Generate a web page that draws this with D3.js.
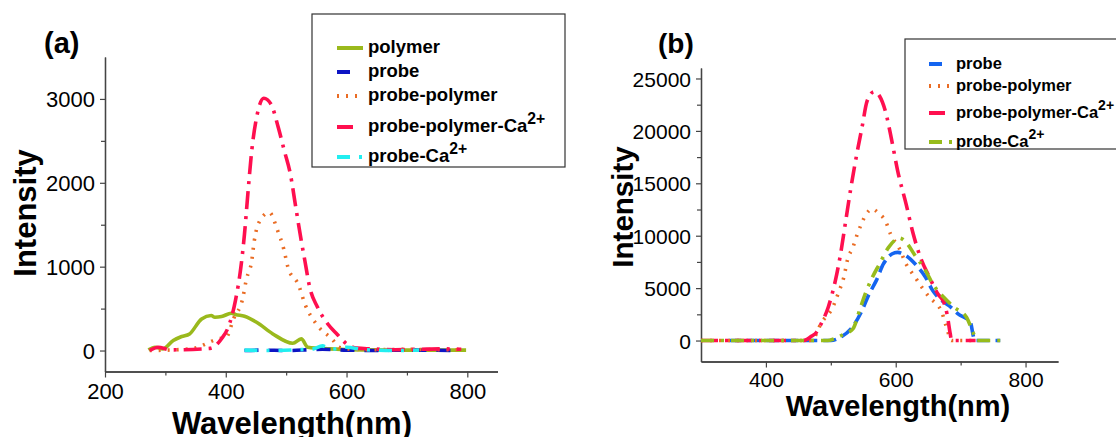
<!DOCTYPE html>
<html>
<head>
<meta charset="utf-8">
<script src="https://cdn.jsdelivr.net/npm/d3@7"></script>
<style>
  body { margin: 0; background: #fff; }
  text { font-family: "Liberation Sans", Arial, sans-serif; fill: #000; }
</style>
</head>
<body>
<div id="chart"></div>
<script>
// ---- data: [wavelength nm, intensity] ----
var polymerA = [[272,8],[283,40],[296,20],[313,120],[327,167],[340,198],[360,377],[376,417],[382,397],
                [393,405],[409,444],[417,428],[431,409],[451,337],[478,198],[511,87],[525,139],[536,40],
                [572,20],[627,8],[700,5],[798,5]];
var probeA = [[431,0],[460,5],[500,0],[540,10],[560,15],[600,5],[640,0],[700,5],[775,0]];
var probePolymerA = [[274,0],[342,20],[388,140],[401,160],[413,380],[428,620],[434,845],[443,1071],
                     [447,1298],[455,1528],[472,1647],[486,1428],[496,1210],[503,992],[521,774],
                     [531,556],[549,325],[578,119],[587,40],[600,20],[650,10],[700,15],[750,10],[790,10]];
var probePolymerCaA = [[274,0],[288,40],[308,8],[374,26],[393,140],[404,277],[416,595],[425,992],
                       [431,1389],[437,1905],[443,2381],[451,2778],[463,3008],[475,2937],[487,2659],
                       [497,2381],[507,2103],[516,1706],[525,1310],[531,1071],[539,754],[552,516],
                       [569,317],[584,198],[602,70],[617,30],[640,20],[680,10],[720,15],[760,20],[790,15]];
var probeCaA = [[431,5],[480,0],[520,10],[545,20],[560,55],[575,15],[600,40],[630,10],[680,0],[720,5]];

var probeB = [[342,0],[500,0],[515,317],[531,1111],[548,2857],[559,4444],[570,5714],[581,7302],
              [594,8254],[603,8413],[616,8095],[630,7302],[646,6032],[657,4762],[668,3968],
              [682,3333],[696,2540],[715,1746],[720,317],[722,0],[761,0]];
var probePolymerB = [[300,0],[470,0],[486,1746],[503,3175],[512,4603],[520,6032],[526,7778],[534,8889],
                     [540,10000],[547,11111],[553,11905],[564,12540],[575,12063],[584,11429],[592,10159],
                     [606,8730],[616,7302],[630,6032],[642,4921],[652,4127],[671,2698],[679,1111],
                     [686,0],[720,0]];
var probePolymerCaB = [[300,0],[458,0],[470,400],[478,790],[485,1587],[496,3175],[507,5714],[515,8254],
                       [523,11429],[531,14603],[540,17778],[548,20317],[556,22857],[567,23746],
                       [575,23333],[584,21905],[594,19048],[603,16190],[616,13016],[627,10159],
                       [638,7937],[652,6032],[665,4444],[674,3651],[679,2540],[684,635],[686,0],[723,0]];
var probeCaB = [[300,0],[495,0],[505,159],[521,635],[534,1111],[545,3016],[553,4444],[564,6032],
                [575,7302],[589,8889],[606,9778],[616,9365],[630,8095],[646,6667],[657,5397],
                [674,4127],[690,3175],[709,2222],[720,635],[725,0],[771,0]];

// ---- axis ticks ----
var xTicksA = [200, 400, 600, 800], xMinorA = [300, 500, 700];
var yTicksA = [0, 1000, 2000, 3000], yMinorA = [500, 1500, 2500];
var xTicksB = [400, 600, 800], xMinorB = [500, 700];
var yTicksB = [0, 5000, 10000, 15000, 20000, 25000], yMinorB = [2500, 7500, 12500, 17500, 22500];

var W = 1116, H = 437;

var svg = d3.select("#chart").append("svg")
            .attr("width", W)
            .attr("height", H);

var panelA = {
  label: "(a)", labelX: 44, labelY: 53, labelFont: 29,
  left: 105, right: 497.5, top: 57, bottom: 371.5,
  xDomain: [200, 850], yDomain: [-250, 3500],
  xTicks: xTicksA, xMinor: xMinorA, yTicks: yTicksA, yMinor: yMinorA,
  tickFont: 22, xPad: 6,
  yTitleX: 36, yTitleY: 213, yTitleFont: 31,
  xTitleX: 292, xTitleY: 434, xTitleFont: 31,
  series: [
    { name: "polymer",        data: polymerA,        color: "#9ab91c", dash: null,          key: 26 },
    { name: "probe",          data: probeA,          color: "#0d14c4", dash: "14,10",       key: 13 },
    { name: "probe-polymer",  data: probePolymerA,   color: "#ea6c24", dash: "2,7",         key: 22 },
    { name: "probe-polymer-Ca", sup: "2+", data: probePolymerCaA, color: "#ff0f4f", dash: "18,7,3,7", key: 16 },
    { name: "probe-Ca", sup: "2+", data: probeCaA, color: "#22eef0", dash: "13,9,3,9", key: 26 }
  ],
  legend: { x: 312, y: 14, w: 253, h: 153, keyX: 337, textX: 368,
            rows: [48, 72, 96, 127, 157], font: 18.5 }
};

var panelB = {
  label: "(b)", labelX: 658, labelY: 53, labelFont: 28,
  left: 701, right: 1058, top: 68, bottom: 361.5,
  xDomain: [300, 850], yDomain: [-2000, 26000],
  xTicks: xTicksB, xMinor: xMinorB, yTicks: yTicksB, yMinor: yMinorB,
  tickFont: 21, xPad: 5,
  yTitleX: 633, yTitleY: 207, yTitleFont: 29.5,
  xTitleX: 898, xTitleY: 416, xTitleFont: 29,
  series: [
    { name: "probe",          data: probeB,          color: "#1565f0", dash: "13,6",        key: 14 },
    { name: "probe-polymer",  data: probePolymerB,   color: "#ea6c24", dash: "2,7",         key: 21 },
    { name: "probe-polymer-Ca", sup: "2+", data: probePolymerCaB, color: "#ff0f4f", dash: "17,7,3,7", key: 16 },
    { name: "probe-Ca", sup: "2+", data: probeCaB, color: "#97bc1c", dash: "13,7,3,7", key: 24 }
  ],
  legend: { x: 905, y: 39, w: 220, h: 110, keyX: 929, textX: 956,
            rows: [64, 86, 113, 142], font: 16.5 }
};

function drawPanel(p) {
  var x = d3.scaleLinear().domain(p.xDomain).range([p.left, p.right]);
  var y = d3.scaleLinear().domain(p.yDomain).range([p.bottom, p.top]);
  var g = svg.append("g");

  // minor ticks first, then the major axis on top
  g.append("g")
   .attr("transform", "translate(0," + p.bottom + ")")
   .call(d3.axisBottom(x).tickValues(p.xMinor).tickSize(4).tickSizeOuter(0).tickFormat(""));
  g.append("g")
   .attr("transform", "translate(" + p.left + ",0)")
   .call(d3.axisLeft(y).tickValues(p.yMinor).tickSize(4).tickSizeOuter(0).tickFormat(""));

  var xAxis = g.append("g")
   .attr("transform", "translate(0," + p.bottom + ")")
   .call(d3.axisBottom(x).tickValues(p.xTicks).tickSize(6).tickSizeOuter(0).tickPadding(p.xPad).tickFormat(d3.format("d")));
  var yAxis = g.append("g")
   .attr("transform", "translate(" + p.left + ",0)")
   .call(d3.axisLeft(y).tickValues(p.yTicks).tickSize(5).tickSizeOuter(0).tickPadding(5).tickFormat(d3.format("d")));

  g.selectAll(".domain").attr("stroke", "#444").attr("stroke-width", 1.3);
  g.selectAll(".tick line").attr("stroke", "#444").attr("stroke-width", 1.2);
  g.selectAll(".tick text")
   .style("font-family", "'Liberation Sans', Arial, sans-serif")
   .style("font-size", p.tickFont + "px")
   .attr("fill", "#000");
  yAxis.selectAll(".tick text").attr("dy", "0.36em");

  // curves
  var line = d3.line()
               .x(function(d) { return x(d[0]); })
               .y(function(d) { return y(d[1]); })
               .curve(d3.curveMonotoneX);

  g.selectAll("path.curve")
   .data(p.series)
   .enter()
   .append("path")
   .attr("class", "curve")
   .attr("d", function(s) { return line(s.data); })
   .attr("fill", "none")
   .attr("stroke", function(s) { return s.color; })
   .attr("stroke-width", 3.6)
   .attr("stroke-dasharray", function(s) { return s.dash; });

  // titles
  g.append("text")
   .attr("x", p.labelX).attr("y", p.labelY)
   .style("font-size", p.labelFont + "px").style("font-weight", "bold")
   .text(p.label);

  g.append("text")
   .attr("transform", "translate(" + p.yTitleX + "," + p.yTitleY + ") rotate(-90)")
   .attr("text-anchor", "middle")
   .style("font-size", p.yTitleFont + "px").style("font-weight", "bold")
   .text("Intensity");

  g.append("text")
   .attr("x", p.xTitleX).attr("y", p.xTitleY)
   .attr("text-anchor", "middle")
   .style("font-size", p.xTitleFont + "px").style("font-weight", "bold")
   .text("Wavelength(nm)");

  // legend
  var L = p.legend;
  g.append("rect")
   .attr("x", L.x).attr("y", L.y).attr("width", L.w).attr("height", L.h)
   .attr("fill", "#fff").attr("stroke", "#333").attr("stroke-width", 1.2);

  var items = g.selectAll("g.item")
               .data(p.series)
               .enter()
               .append("g")
               .attr("class", "item")
               .attr("transform", function(s, i) { return "translate(0," + L.rows[i] + ")"; });

  items.append("line")
       .attr("x1", L.keyX)
       .attr("x2", function(s) { return L.keyX + s.key; })
       .attr("stroke", function(s) { return s.color; })
       .attr("stroke-width", 4)
       .attr("stroke-dasharray", function(s) { return s.dash; });

  var t = items.append("text")
               .attr("x", L.textX)
               .attr("y", 5)
               .style("font-size", L.font + "px")
               .style("font-weight", "bold");
  t.append("tspan").text(function(s) { return s.name; });
  t.append("tspan")
   .attr("dy", -8)
   .style("font-size", (L.font * 0.85) + "px")
   .text(function(s) { return s.sup || ""; });
}

drawPanel(panelA);
drawPanel(panelB);
</script>
</body>
</html>
